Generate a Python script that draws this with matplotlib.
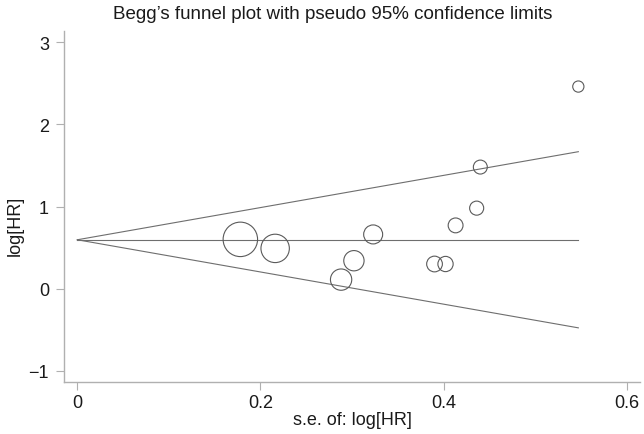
import numpy as np
import matplotlib
matplotlib.use('Agg')
from matplotlib import pyplot as plt

plt.rcParams['font.family'] = ['Liberation Sans', 'DejaVu Sans']

# study estimates
se = [0.178, 0.216, 0.288, 0.302, 0.323, 0.390, 0.402, 0.413, 0.436, 0.440, 0.547]
loghr = [0.60, 0.49, 0.11, 0.34, 0.66, 0.30, 0.30, 0.77, 0.98, 1.48, 2.46]
pooled = 0.595

xticks = [0, 0.2, 0.4, 0.6]
xticklabels = ['0', '0.2', '0.4', '0.6']
yticks = [-1, 0, 1, 2, 3]
yticklabels = ['\u22121', '0', '1', '2', '3']

se = np.array(se)
loghr = np.array(loghr)

fig = plt.figure(figsize=(6.44, 4.35), dpi=100)
ax = fig.add_axes([64.3 / 644, 1 - 383.3 / 435, (639.7 - 64.3) / 644, (383.3 - 31.7) / 435])

# funnel: pooled estimate +/- 1.96 se
s_line = np.array([0, se.max()])
ax.plot(s_line, [pooled, pooled], color='#6e6e6e', lw=0.8)
ax.plot(s_line, pooled + 1.96 * s_line, color='#6e6e6e', lw=0.8)
ax.plot(s_line, pooled - 1.96 * s_line, color='#6e6e6e', lw=0.8)

# marker area ~ weight (1/se^2)
ax.scatter(se, loghr, s=19.5 / se ** 2, facecolors='none', edgecolors='#5a5a5a', linewidths=0.8, zorder=3)

ax.set_xlim(-0.0142, 0.614)
ax.set_ylim(-1.14, 3.14)
ax.set_xticks(xticks)
ax.set_xticklabels(xticklabels)
ax.set_yticks(yticks)
ax.set_yticklabels(yticklabels)

for side in ['top', 'right']:
    ax.spines[side].set_visible(False)
for side in ['left', 'bottom']:
    ax.spines[side].set_color('#b0b0b0')
    ax.spines[side].set_linewidth(1.0)
ax.tick_params(axis='both', colors='#b0b0b0', labelcolor='#1a1a1a', length=6, width=0.8, labelsize=13)
ax.tick_params(axis='x', pad=2.5)
ax.tick_params(axis='y', pad=5)

ax.set_xlabel('s.e. of: log[HR]', fontsize=13, color='#1a1a1a', va='top')
ax.xaxis.set_label_coords(0.5, -0.083)
ax.set_ylabel('log[HR]', fontsize=13, color='#1a1a1a')
ax.yaxis.set_label_coords(-0.070, 0.447)

fig.text(0.516, 0.966, 'Begg\u2019s funnel plot with pseudo 95% confidence limits',
         ha='center', va='center', fontsize=13.5, color='#1a1a1a')

fig.savefig('out.png', dpi=100)
